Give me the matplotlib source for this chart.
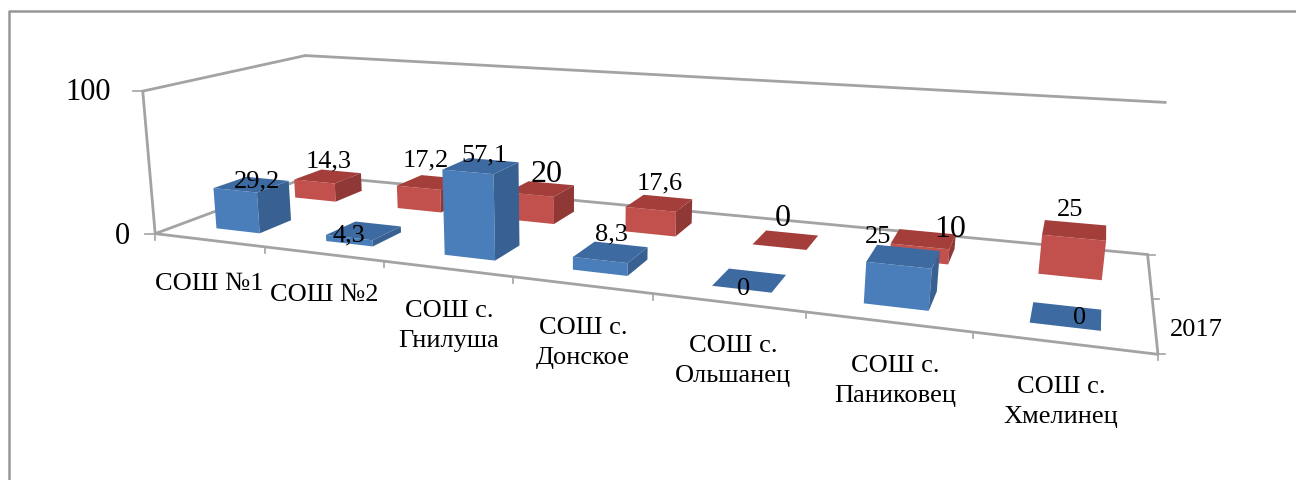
import numpy as np
from matplotlib import pyplot as plt
from matplotlib.patches import Polygon

plt.rcParams["font.family"] = ["Liberation Serif", "DejaVu Serif"]

categories = ["СОШ №1", "СОШ №2", "СОШ с.\nГнилуша", "СОШ с.\nДонское",
              "СОШ с.\nОльшанец", "СОШ с.\nПаниковец", "СОШ с.\nХмелинец"]
series_front = [29.2, 4.3, 57.1, 8.3, 0, 25, 0]
series_back = [14.3, 17.2, 20, 17.6, 0, 10, 25]
series_label = "2017"
z_ticks = [0, 100]

W, H = 1296, 481
LINE = "#a3a3a3"
BLUE = {"front": "#4a7ebb", "side": "#386192", "top": "#3d6aa1"}
RED = {"front": "#c2504d", "side": "#8f3835", "top": "#a33e3b"}

# where the chart box corners sit in the picture, used to fit the camera
calib = [((0, 0, 0), (157, 234)), ((7, 0, 0), (1157, 356)), ((7, 2, 0), (1147, 255)),
         ((0, 2, 0), (309, 177)), ((0, 0, 100), (140, 92)), ((0, 2, 100), (308, 57)),
         ((7, 2, 100), (1165, 103)), ((1, 0, 0), (266, 247)), ((2, 0, 0), (384, 262)),
         ((3, 0, 0), (513, 278)), ((4, 0, 0), (653, 295)), ((5, 0, 0), (805, 313)),
         ((6, 0, 0), (972, 334)), ((7, 1, 0), (1155, 299))]


def fit_camera(points):
    """Fit a 3x4 projection matrix to point pairs (plain DLT)."""
    rows = []
    for (x, d, z), (u, v) in points:
        p = [x / 7, d / 2, z / 100, 1]
        rows.append(p + [0, 0, 0, 0] + [-u * c for c in p])
        rows.append([0, 0, 0, 0] + p + [-v * c for c in p])
    return np.linalg.svd(np.array(rows, dtype=float))[2][-1].reshape(3, 4)


CAM = fit_camera(calib)


def proj(x, d, z):
    u, v, w = CAM @ np.array([x / 7, d / 2, z / 100, 1])
    return u / w, v / w


def area(pts):
    a = np.array(pts)
    return np.sum(a[:, 0] * np.roll(a[:, 1], -1) - np.roll(a[:, 0], -1) * a[:, 1])


def draw_bar(ax, i, row, value, colors, width=0.40):
    # the fitted camera runs slightly left of the picture at the left end
    mid = i + 0.5 + 0.04 * (1 - i / 6)
    x0, x1 = mid - width / 2, mid + width / 2
    d0, d1 = row + 0.28, row + 0.67
    front = [proj(x0, d0, 0), proj(x1, d0, 0), proj(x1, d0, value), proj(x0, d0, value)]
    top = [proj(x0, d0, value), proj(x1, d0, value), proj(x1, d1, value), proj(x0, d1, value)]
    right = [proj(x1, d0, 0), proj(x1, d1, 0), proj(x1, d1, value), proj(x1, d0, value)]
    left = [proj(x0, d1, 0), proj(x0, d0, 0), proj(x0, d0, value), proj(x0, d1, value)]
    if value > 0:
        ax.add_patch(Polygon(front, fc=colors["front"], ec="none", zorder=3 + (1 - row)))
        if area(right) < 0:
            ax.add_patch(Polygon(right, fc=colors["side"], ec="none", zorder=3 + (1 - row)))
        if area(left) < 0:
            ax.add_patch(Polygon(left, fc=colors["side"], ec="none", zorder=3 + (1 - row)))
    ax.add_patch(Polygon(top, fc=colors["top"], ec="none", zorder=3 + (1 - row)))


fig = plt.figure(figsize=(W / 100, H / 100), dpi=100)
ax = fig.add_axes([0, 0, 1, 1])
ax.set_xlim(0, W)
ax.set_ylim(H, 0)
ax.axis("off")

# outer chart frame, only left and top survive in the picture
ax.plot([9, 9, W], [H, 12, 12], color="#969696", lw=1.8, zorder=1)


def edge(a, b, lw=2.0):
    pa, pb = proj(*a), proj(*b)
    ax.plot([pa[0], pb[0]], [pa[1], pb[1]], color=LINE, lw=lw, zorder=2, solid_capstyle="round")


edge((0, 0, 0), (7, 0, 0))
edge((7, 0, 0), (7, 2, 0))
edge((7, 2, 0), (0, 2, 0))
edge((0, 2, 0), (0, 0, 0))
edge((0, 0, 0), (0, 0, 100))
edge((0, 0, 100), (0, 2, 100))
edge((0, 2, 100), (7, 2, 100))

# ticks
for i in range(8):
    u, v = proj(i, 0, 0)
    ax.plot([u, u], [v, v + 6], color=LINE, lw=1.2, zorder=2)
for d in range(3):
    u, v = proj(7, d, 0)
    ax.plot([u, u + 7], [v, v], color=LINE, lw=1.2, zorder=2)
for z in z_ticks:
    u, v = proj(0, 0, z)
    ax.plot([u - 10, u], [v, v], color=LINE, lw=1.2, zorder=2)

for row, (vals, colors) in enumerate([(series_front, BLUE), (series_back, RED)]):
    for i, val in enumerate(vals):
        draw_bar(ax, i, row, val, colors)

# text
for z, (tx, ty) in zip(z_ticks, [(122, 237), (88, 92)]):
    ax.text(tx, ty, str(z), fontsize=22, ha="center", va="center", color="black", zorder=8)

cat_xy = [(209, 284), (324, 295), (449, 326), (583, 343), (733, 361), (895, 381), (1061, 402)]
for label, (tx, ty) in zip(categories, cat_xy):
    ax.text(tx, ty, label, fontsize=19, ha="center", va="center", linespacing=1.5, color="black", zorder=8)

ax.text(1196, 330, series_label, fontsize=19, ha="center", va="center", color="black", zorder=8)

front_label_xy = [(257, 181), (349, 235), (484, 155), (611, 234), (744, 289), (878, 237), (1080, 318)]
front_label_size = [19, 19, 19, 19, 19, 19, 19]
back_label_xy = [(329, 161), (426, 160), (547, 175), (660, 183), (783, 219), (950, 230), (1070, 210)]
back_label_size = [19, 19, 23, 19, 23, 23, 19]


def fmt(v):
    return f"{v:g}".replace(".", ",")


for vals, xy, sizes in [(series_front, front_label_xy, front_label_size),
                        (series_back, back_label_xy, back_label_size)]:
    for val, (tx, ty), fs in zip(vals, xy, sizes):
        ax.text(tx, ty, fmt(val), fontsize=fs, ha="center", va="center", color="black", zorder=9)

fig.savefig("out.png", dpi=100)
